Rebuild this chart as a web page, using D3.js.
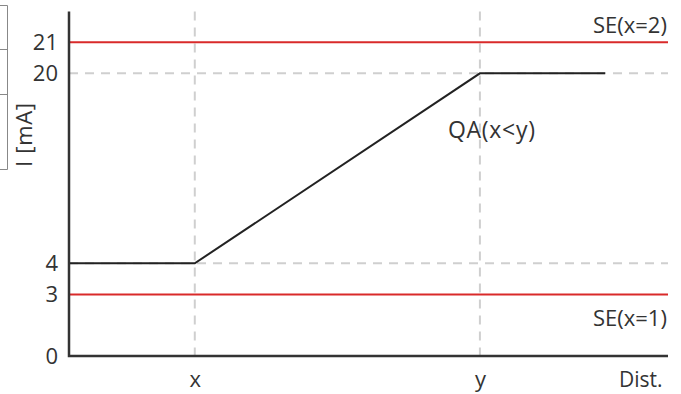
<!DOCTYPE html>
<html><head><meta charset="utf-8">
<script src="https://cdn.jsdelivr.net/npm/d3@7/dist/d3.min.js"></script>
<style>body{margin:0;background:#fff}svg{display:block}text{font-family:"Open Sans",sans-serif;fill:#333}</style>
</head><body>
<script>
const yTicks = [0, 3, 4, 20, 21];
const yTickLabels = ["0", "3", "4", "20", "21"];
const xTicks = [21, 68.6];
const xTickLabels = ["x", "y"];
const lineDist = [0, 21, 68.6, 89.5];
const lineCurrent = [4, 4, 20, 20];
const limits = [21, 3];
const limitLabels = ["SE(x=2)", "SE(x=1)"];
const guideLevels = [20, 4];

const W = 681, H = 394;
const svg = d3.select("body").append("svg").attr("width", W).attr("height", H);

const x = d3.scaleLinear().domain([0, 100]).range([69, 668]);
const y = d3.scaleLinear().domain([0, 3, 4, 20, 21, 22]).range([356, 294.5, 263.3, 73.3, 42.3, 11.5]);

// left-edge table fragment
const tbl = svg.append("g").attr("stroke", "#888").attr("stroke-width", 1).attr("fill", "none");
tbl.append("path").attr("d", "M0,5.5H7.5V169.5H0");
[49.5, 94.5].forEach(v => tbl.append("line").attr("x1", 0).attr("x2", 7.5).attr("y1", v).attr("y2", v));

// dashed guides
const dash = svg.append("g").attr("stroke", "#cfcfcf").attr("stroke-width", 2).attr("stroke-dasharray", "9,7");
guideLevels.forEach(v => dash.append("line").attr("x1", x(0)).attr("x2", x(100)).attr("y1", y(v)).attr("y2", y(v)));
xTicks.forEach(v => dash.append("line").attr("x1", x(v)).attr("x2", x(v)).attr("y1", y(22)).attr("y2", y(0)));

// red limit lines
limits.forEach((v, i) => {
  svg.append("line").attr("x1", x(0)).attr("x2", x(100)).attr("y1", y(v)).attr("y2", y(v))
    .attr("stroke", "#d92a2a").attr("stroke-width", 2);
});
svg.append("text").attr("x", 593).attr("y", 33).attr("font-size", 22).text(limitLabels[0]);
svg.append("text").attr("x", 593).attr("y", 326).attr("font-size", 22).text(limitLabels[1]);

// data line
svg.append("path").datum(lineDist.map((d, i) => [d, lineCurrent[i]]))
  .attr("d", d3.line().x(d => x(d[0])).y(d => y(d[1])))
  .attr("fill", "none").attr("stroke", "#222").attr("stroke-width", 2);
svg.append("text").attr("x", 448).attr("y", 138).attr("font-size", 23).attr("textLength", 87).text("QA(x<y)");

// axes
const yAxis = d3.axisLeft(y).tickValues(yTicks).tickFormat((d, i) => yTickLabels[i]).tickSize(0).tickPadding(11);
const gy = svg.append("g").attr("transform", `translate(${x(0)},0)`).call(yAxis);
gy.select(".domain").remove();
gy.selectAll("text").attr("font-size", 22).attr("font-family", "Open Sans, sans-serif").attr("fill", "#333");

const xAxis = d3.axisBottom(x).tickValues(xTicks).tickFormat((d, i) => xTickLabels[i]).tickSize(0).tickPadding(15);
const gx = svg.append("g").attr("transform", `translate(0,${y(0)})`).call(xAxis);
gx.select(".domain").remove();
gx.selectAll("text").attr("font-size", 22).attr("font-family", "Open Sans, sans-serif").attr("fill", "#333");

svg.append("path").attr("d", `M${x(0)},${y(22)}V${y(0)}H${x(100)}`)
  .attr("fill", "none").attr("stroke", "#333").attr("stroke-width", 2.5);

svg.append("text").attr("x", 619).attr("y", 387).attr("font-size", 21).text("Dist.");
svg.append("text").attr("transform", "translate(32,135) rotate(-90)").attr("text-anchor", "middle")
  .attr("font-size", 22).attr("textLength", 64).text("I [mA]");
</script>
</body></html>
